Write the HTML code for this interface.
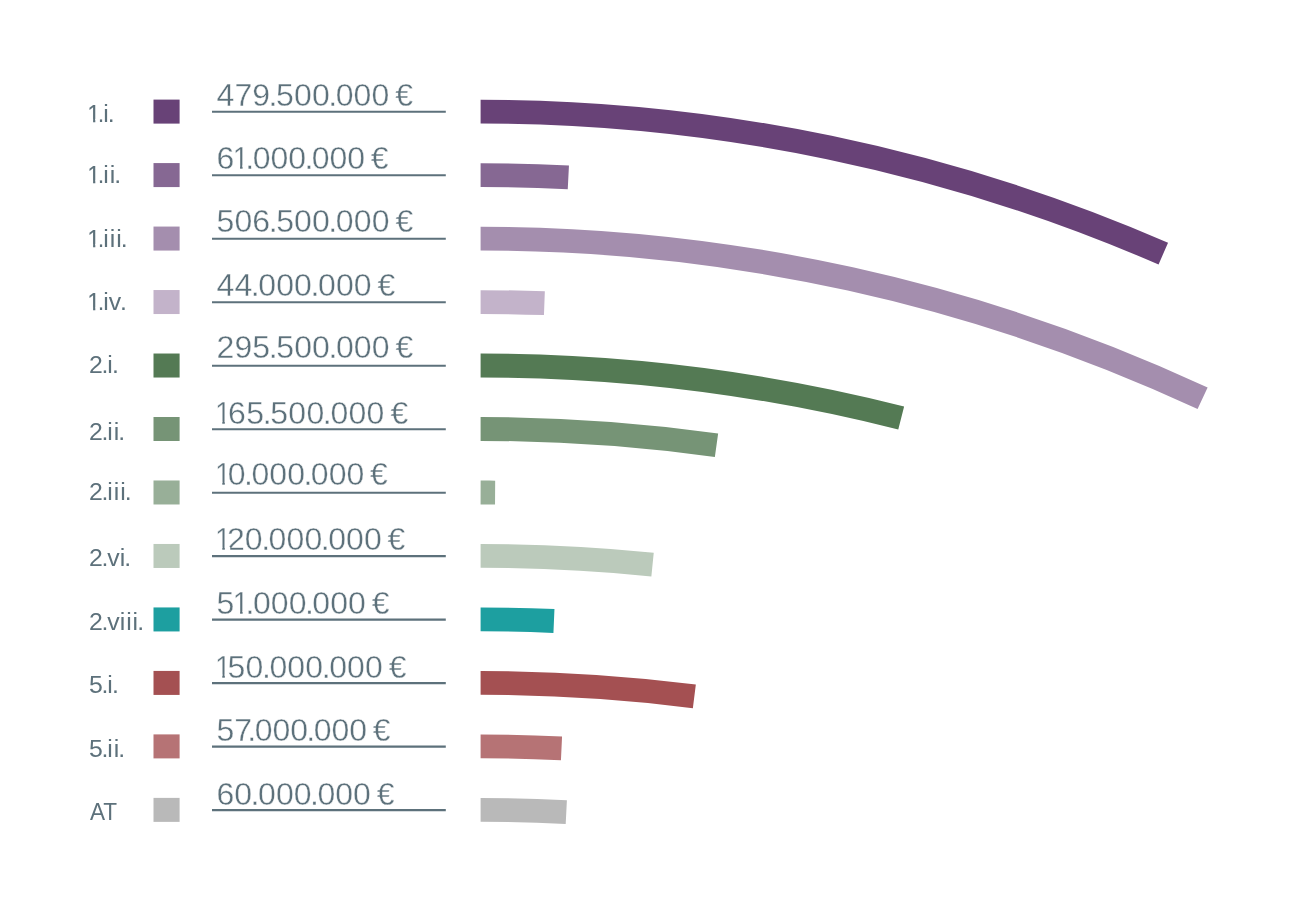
<!DOCTYPE html>
<html lang="es">
<head>
<meta charset="utf-8">
<title>Chart</title>
<style>
html,body{margin:0;padding:0;background:#fff;}
body{width:1293px;height:920px;overflow:hidden;}
svg{display:block;}
text{font-family:"Liberation Sans",sans-serif;fill:#5d717b;white-space:pre;}
.v{font-size:32.0px;stroke:#fff;stroke-width:0.35px;}
.l{font-size:24.8px;}
.l tspan{stroke:#5d717b;stroke-width:0.25px;}
.m{fill:#fff;}
.bar{fill:none;stroke-width:23.8;stroke-linecap:butt;}
.ln{stroke:#5d717b;stroke-width:2.1;}
</style>
</head>
<body>
<svg width="1293" height="920" viewBox="0 0 1293 920">
<g>
<text class="l" x="87.60 97.55 103.25 107.85" y="121.90"><tspan textLength="12.41" lengthAdjust="spacingAndGlyphs">1</tspan>.i.</text>
<rect class="m" x="88.28" y="118.92" width="4.81" height="4.30"/><rect class="m" x="95.31" y="118.92" width="4.34" height="4.30"/>
<rect x="153.5" y="99.60" width="26.1" height="24" fill="#684277"/>
<text class="v" x="216.55 234.38 252.28 268.60 276.08 293.99 311.89 328.20 335.69 353.59 371.49 389.42 395.14" y="105.75">479.500.000 €</text>
<line class="ln" x1="212" y1="111.80" x2="445.8" y2="111.80"/>
<path class="bar" d="M480.60 111.60A1712.0 1712.0 0 0 1 1163.30 253.61" stroke="#684277"/>
</g>
<g>
<text class="l" x="87.60 97.55 103.25 109.70 114.30" y="183.48"><tspan textLength="12.41" lengthAdjust="spacingAndGlyphs">1</tspan>.ii.</text>
<rect class="m" x="88.28" y="180.50" width="4.81" height="4.30"/><rect class="m" x="95.31" y="180.50" width="4.34" height="4.30"/>
<rect x="153.5" y="163.08" width="26.1" height="24" fill="#866893"/>
<text class="v" x="216.55 232.78 245.36 252.78 270.52 288.25 304.42 311.84 329.57 347.31 365.07 370.74" y="168.73">6<tspan textLength="16.02" lengthAdjust="spacingAndGlyphs">1</tspan>.000.000 €</text>
<rect class="m" x="234.08" y="165.34" width="5.95" height="4.59"/><rect class="m" x="242.57" y="165.34" width="5.42" height="4.59"/>
<line class="ln" x1="212" y1="175.28" x2="445.8" y2="175.28"/>
<path class="bar" d="M480.60 175.08A1712.0 1712.0 0 0 1 568.35 177.33" stroke="#866893"/>
</g>
<g>
<text class="l" x="87.60 97.55 103.25 109.70 116.15 120.75" y="246.91"><tspan textLength="12.41" lengthAdjust="spacingAndGlyphs">1</tspan>.iii.</text>
<rect class="m" x="88.28" y="243.93" width="4.81" height="4.30"/><rect class="m" x="95.31" y="243.93" width="4.34" height="4.30"/>
<rect x="153.5" y="226.56" width="26.1" height="24" fill="#a48eae"/>
<text class="v" x="216.55 234.39 252.32 268.66 276.16 294.09 312.01 328.35 335.85 353.78 371.71 389.66 395.39" y="231.71">506.500.000 €</text>
<line class="ln" x1="212" y1="238.76" x2="445.8" y2="238.76"/>
<path class="bar" d="M480.60 238.56A1712.0 1712.0 0 0 1 1202.60 398.25" stroke="#a48eae"/>
</g>
<g>
<text class="l" x="87.60 97.55 103.25 108.85 119.94" y="310.49"><tspan textLength="12.41" lengthAdjust="spacingAndGlyphs">1</tspan>.iv.</text>
<rect class="m" x="88.28" y="307.51" width="4.81" height="4.30"/><rect class="m" x="95.31" y="307.51" width="4.34" height="4.30"/>
<rect x="153.5" y="290.04" width="26.1" height="24" fill="#c3b3ca"/>
<text class="v" x="216.55 234.40 250.75 258.25 276.18 294.12 310.46 317.96 335.90 353.84 371.80 377.53" y="295.99">44.000.000 €</text>
<line class="ln" x1="212" y1="302.24" x2="445.8" y2="302.24"/>
<path class="bar" d="M480.60 302.04A1712.0 1712.0 0 0 1 544.40 303.23" stroke="#c3b3ca"/>
</g>
<g>
<text class="l" x="88.88 101.61 107.31 111.91" y="373.22">2.i.</text>
<rect x="153.5" y="353.52" width="26.1" height="24" fill="#547a54"/>
<text class="v" x="216.55 234.40 252.34 268.69 276.19 294.13 312.07 328.42 335.92 353.85 371.79 389.75 395.49" y="358.27">295.500.000 €</text>
<line class="ln" x1="212" y1="365.72" x2="445.8" y2="365.72"/>
<path class="bar" d="M480.60 365.52A1712.0 1712.0 0 0 1 901.20 417.99" stroke="#547a54"/>
</g>
<g>
<text class="l" x="88.88 101.61 107.31 113.76 118.36" y="439.50">2.ii.</text>
<rect x="153.5" y="417.00" width="26.1" height="24" fill="#769476"/>
<text class="v" x="215.04 228.11 246.19 262.66 270.22 288.30 306.38 322.86 330.42 348.50 366.58 384.68 390.46" y="424.35"><tspan textLength="16.02" lengthAdjust="spacingAndGlyphs">1</tspan>65.500.000 €</text>
<rect class="m" x="216.33" y="420.96" width="5.95" height="4.59"/><rect class="m" x="224.82" y="420.96" width="5.42" height="4.59"/>
<line class="ln" x1="212" y1="429.20" x2="445.8" y2="429.20"/>
<path class="bar" d="M480.60 429.00A1712.0 1712.0 0 0 1 716.50 445.33" stroke="#769476"/>
</g>
<g>
<text class="l" x="88.88 101.61 107.31 113.76 120.21 124.81" y="500.48">2.iii.</text>
<rect x="153.5" y="480.48" width="26.1" height="24" fill="#98af98"/>
<text class="v" x="215.04 227.86 244.09 251.54 269.34 287.15 303.38 310.82 328.63 346.44 364.27 369.96" y="485.33"><tspan textLength="16.02" lengthAdjust="spacingAndGlyphs">1</tspan>0.000.000 €</text>
<rect class="m" x="216.33" y="481.94" width="5.95" height="4.59"/><rect class="m" x="224.82" y="481.94" width="5.42" height="4.59"/>
<line class="ln" x1="212" y1="492.68" x2="445.8" y2="492.68"/>
<path class="bar" d="M480.60 492.48A1712.0 1712.0 0 0 1 495.10 492.54" stroke="#98af98"/>
</g>
<g>
<text class="l" x="88.88 101.61 107.20 119.70 124.30" y="566.01">2.vi.</text>
<rect x="153.5" y="543.96" width="26.1" height="24" fill="#bbcabb"/>
<text class="v" x="215.04 226.97 244.85 261.14 268.62 286.50 304.38 320.68 328.16 346.04 363.92 381.82 387.54" y="550.41"><tspan textLength="16.02" lengthAdjust="spacingAndGlyphs">1</tspan>20.000.000 €</text>
<rect class="m" x="216.33" y="547.02" width="5.95" height="4.59"/><rect class="m" x="224.82" y="547.02" width="5.42" height="4.59"/>
<line class="ln" x1="212" y1="556.16" x2="445.8" y2="556.16"/>
<path class="bar" d="M480.60 555.96A1712.0 1712.0 0 0 1 652.55 564.62" stroke="#bbcabb"/>
</g>
<g>
<text class="l" x="88.88 101.61 107.20 119.70 126.15 132.60 137.20" y="630.09">2.viii.</text>
<rect x="153.5" y="607.44" width="26.1" height="24" fill="#1d9fa0"/>
<text class="v" x="216.55 232.83 245.49 252.95 270.80 288.64 304.91 312.37 330.22 348.06 365.93 371.64" y="614.39">5<tspan textLength="16.02" lengthAdjust="spacingAndGlyphs">1</tspan>.000.000 €</text>
<rect class="m" x="234.12" y="611.00" width="5.95" height="4.59"/><rect class="m" x="242.62" y="611.00" width="5.42" height="4.59"/>
<line class="ln" x1="212" y1="619.64" x2="445.8" y2="619.64"/>
<path class="bar" d="M480.60 619.44A1712.0 1712.0 0 0 1 553.95 621.01" stroke="#1d9fa0"/>
</g>
<g>
<text class="l" x="88.91 101.61 107.31 111.91" y="693.02">5.i.</text>
<rect x="153.5" y="670.92" width="26.1" height="24" fill="#a45052"/>
<text class="v" x="215.04 227.58 245.52 261.88 269.38 287.33 305.27 321.63 329.13 347.08 365.02 382.99 388.73" y="677.77"><tspan textLength="16.02" lengthAdjust="spacingAndGlyphs">1</tspan>50.000.000 €</text>
<rect class="m" x="216.33" y="674.38" width="5.95" height="4.59"/><rect class="m" x="224.82" y="674.38" width="5.42" height="4.59"/>
<line class="ln" x1="212" y1="683.12" x2="445.8" y2="683.12"/>
<path class="bar" d="M480.60 682.92A1712.0 1712.0 0 0 1 694.35 696.32" stroke="#a45052"/>
</g>
<g>
<text class="l" x="88.91 101.61 107.31 113.76 118.36" y="757.00">5.ii.</text>
<rect x="153.5" y="734.40" width="26.1" height="24" fill="#b67375"/>
<text class="v" x="216.55 234.30 247.28 254.70 272.45 290.20 306.37 313.80 331.54 349.29 367.07 372.74" y="741.25">57.000.000 €</text>
<line class="ln" x1="212" y1="746.60" x2="445.8" y2="746.60"/>
<path class="bar" d="M480.60 746.40A1712.0 1712.0 0 0 1 561.50 748.31" stroke="#b67375"/>
</g>
<g>
<text class="l" x="89.9" y="820.08" textLength="27.2" lengthAdjust="spacingAndGlyphs">AT</text>
<rect x="153.5" y="797.88" width="26.1" height="24" fill="#b9b9b9"/>
<text class="v" x="216.55 234.34 250.59 258.05 275.88 293.71 309.96 317.42 335.25 353.08 370.93 376.63" y="804.53">60.000.000 €</text>
<line class="ln" x1="212" y1="810.08" x2="445.8" y2="810.08"/>
<path class="bar" d="M480.60 809.88A1712.0 1712.0 0 0 1 566.30 812.03" stroke="#b9b9b9"/>
</g>
</svg>
</body>
</html>
